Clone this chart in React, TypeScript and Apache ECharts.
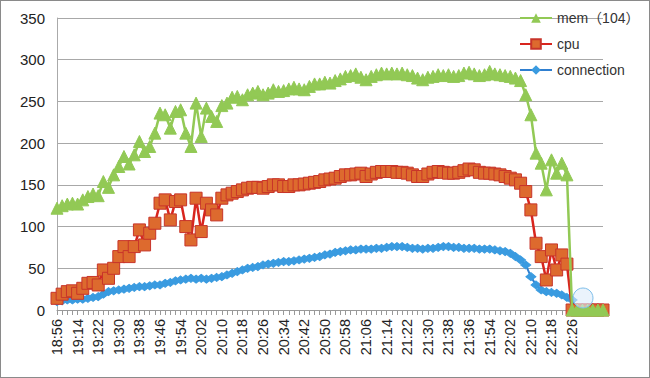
import React, { useEffect, useRef } from "react";
import * as echarts from "echarts";

const tickLabels = [
  "18:56", "19:14", "19:22", "19:30", "19:38", "19:46", "19:54", "20:02", "20:10",
  "20:18", "20:26", "20:34", "20:42", "20:50", "20:58", "21:06", "21:14", "21:22",
  "21:30", "21:38", "21:36", "21:54", "22:02", "22:10", "22:18", "22:26",
];

const memValues = [
  122, 125, 127, 128, 127, 132, 136, 139, 137, 154, 147, 162, 172, 184, 175, 186, 202, 190, 196, 212,
  236, 234, 218, 238, 240, 212, 196, 248, 208, 242, 232, 226, 245, 248, 255, 256, 252, 258, 260, 262,
  258, 260, 264, 262, 263, 265, 267, 265, 264, 268, 271, 271, 273, 272, 275, 277, 280, 281, 283, 279,
  276, 280, 282, 284, 283, 284, 283, 284, 282, 281, 278, 276, 279, 280, 282, 281, 282, 280, 281, 284,
  285, 283, 281, 282, 286, 283, 282, 281, 280, 278, 275, 258, 234, 188, 176, 144, 180, 164, 176, 162,
  0, 0, 0, 0, 0, 0, 0,
];

const cpuValues = [
  14, 19, 22, 23, 20, 26, 32, 33, 30, 48, 38, 50, 64, 76, 64, 76, 96, 78, 92, 104,
  128, 132, 108, 130, 132, 100, 84, 134, 94, 128, 120, 114, 134, 138, 140, 142, 144, 146, 147, 147,
  146, 148, 150, 150, 148, 148, 150, 150, 151, 152, 153, 154, 156, 157, 158, 160, 162, 162, 163, 164,
  160, 163, 165, 166, 166, 166, 165, 165, 164, 162, 160, 160, 163, 165, 166, 165, 164, 164, 165, 167,
  169, 168, 165, 164, 164, 163, 162, 160, 158, 156, 152, 142, 120, 80, 64, 36, 72, 48, 66, 55,
  0, 0, 0, 0, 0, 0, 0,
];

const connectionValues = [
  10, 11, 12, 12, 13, 13, 14, 15, 16, 19, 22, 23, 24, 25, 26, 27, 28, 28, 29, 30,
  30, 32, 33, 35, 36, 37, 38, 37, 38, 37, 38, 39, 40, 42, 44, 46, 48, 50, 51, 52,
  54, 55, 56, 57, 58, 58, 59, 60, 61, 62, 63, 64, 66, 67, 69, 70, 71, 72, 72, 73,
  73, 73, 74, 74, 75, 76, 76, 76, 75, 74, 74, 73, 74, 74, 75, 76, 76, 75, 75, 74,
  74, 74, 73, 73, 73, 72, 71, 70, 68, 64, 60, 54, 40, 30, 24, 22, 21, 20, 18, 15,
  12, 0, 0, 0, 0, 0, 0,
];

const seriesNames = ["mem（104）", "cpu", "connection"];

function pad(n: number) {
  return n < 10 ? "0" + n : String(n);
}

// category names: every 4th category carries a tick label, the rest step by 2 minutes
const categories: string[] = [];
for (let i = 0; i < memValues.length; i++) {
  if (i % 4 === 0 && i / 4 < tickLabels.length) {
    categories.push(tickLabels[i / 4]);
  } else {
    const prev = categories[i - 1];
    const [h, m] = prev.split(":").map(Number);
    const t = h * 60 + m + 2;
    categories.push(pad(Math.floor(t / 60) % 24) + ":" + pad(t % 60));
  }
}

export default function App() {
  const ref = useRef<HTMLDivElement>(null);
  useEffect(() => {
    document.body.style.margin = "0";
    if (!ref.current) return;
    const chart = echarts.init(ref.current, undefined, { renderer: "svg" });
    const font = "Liberation Sans, Arial, 'Noto Sans CJK SC', sans-serif";
    chart.setOption({
      animation: false,
      textStyle: { fontFamily: font },
      grid: { left: 56, right: 46, top: 17, bottom: 67 },
      legend: {
        orient: "vertical",
        left: 513,
        top: 5,
        itemWidth: 32,
        itemHeight: 12,
        itemGap: 12,
        data: seriesNames,
        textStyle: { fontSize: 14, color: "#333", fontFamily: font },
      },
      xAxis: {
        type: "category",
        data: categories,
        boundaryGap: false,
        axisLine: { show: true, lineStyle: { color: "#999", width: 1 } },
        axisTick: { show: true, interval: 0, length: 5, lineStyle: { color: "#999" } },
        axisLabel: {
          interval: (idx: number) => idx % 4 === 0 && idx / 4 < tickLabels.length,
          rotate: 90,
          fontSize: 14.5,
          color: "#222",
          margin: 9,
          fontFamily: font,
        },
        splitLine: { show: false },
      },
      yAxis: {
        type: "value",
        min: 0,
        max: 350,
        interval: 50,
        axisLine: { show: true, lineStyle: { color: "#aaa" } },
        axisTick: { show: false },
        axisLabel: { fontSize: 15, color: "#222", margin: 12, fontFamily: font },
        splitLine: { lineStyle: { color: "#a8a8a8", width: 1 } },
      },
      series: [
        {
          name: "connection",
          type: "line",
          data: connectionValues,
          symbol: "diamond",
          symbolSize: [10, 8],
          showSymbol: true,
          showAllSymbol: true,
          lineStyle: { color: "#2F7FD0", width: 2 },
          itemStyle: { color: "#3A9BE0", borderColor: "#3A9BE0" },
          z: 2,
        },
        {
          name: "cpu",
          type: "line",
          data: cpuValues,
          symbol: "rect",
          symbolSize: 12,
          showSymbol: true,
          showAllSymbol: true,
          lineStyle: { color: "#D8251E", width: 2.5 },
          itemStyle: { color: "#DD6A2E", borderColor: "#C8342A", borderWidth: 1 },
          z: 3,
        },
        {
          name: "mem（104）",
          type: "line",
          data: memValues,
          symbol: "triangle",
          symbolSize: 12,
          showSymbol: true,
          showAllSymbol: true,
          lineStyle: { color: "#92C955", width: 2.5 },
          itemStyle: { color: "#92C955", borderColor: "#92C955" },
          z: 4,
        },
      ],
      graphic: [
        {
          type: "circle",
          shape: { cx: 582, cy: 297, r: 10 },
          style: { fill: "rgba(220,235,250,0.6)", stroke: "#7FBFEA", lineWidth: 1 },
          z: 100,
        },
      ],
    });
    return () => chart.dispose();
  }, []);
  return (
    <div
      style={{
        width: 650,
        height: 378,
        border: "1px solid #8a8a8a",
        boxSizing: "border-box",
        background: "#fff",
      }}
    >
      <div ref={ref} style={{ width: 648, height: 376 }} />
    </div>
  );
}
